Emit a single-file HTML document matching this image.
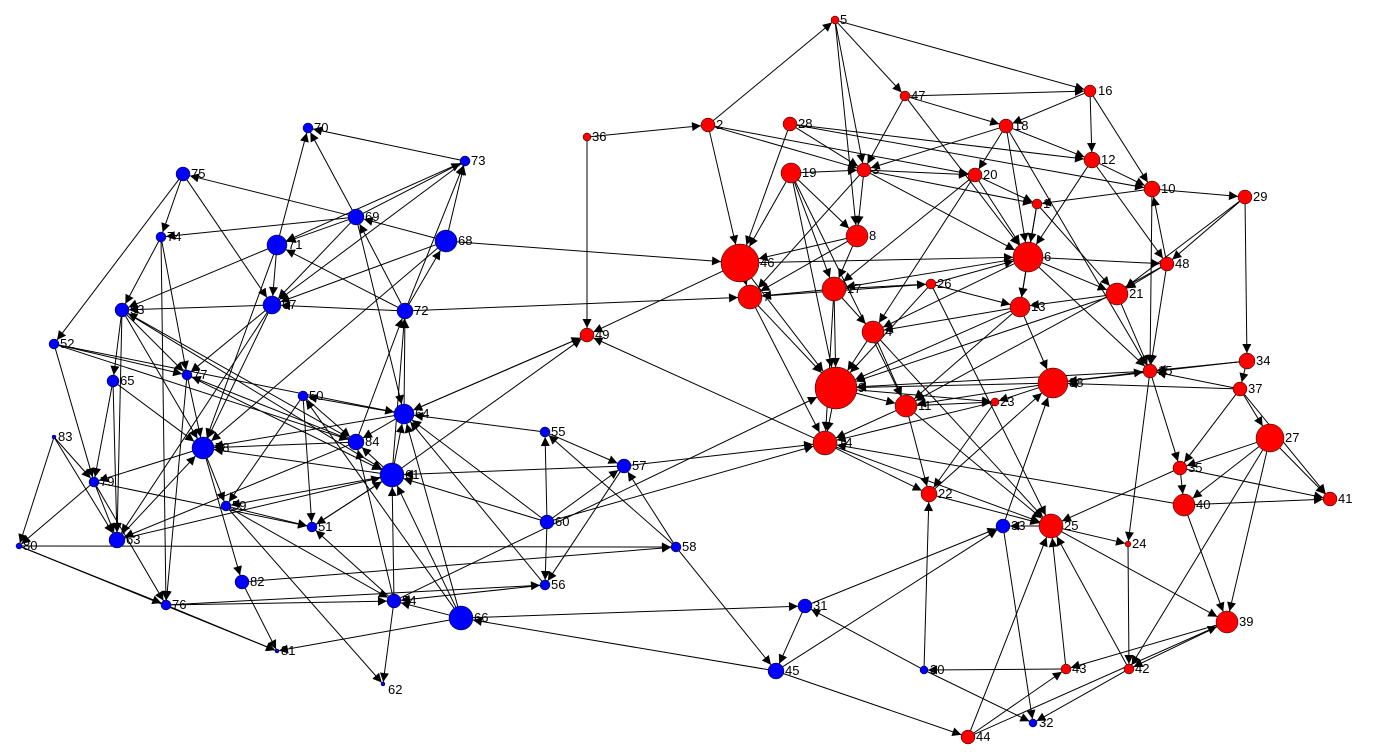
<!DOCTYPE html>
<html><head><meta charset="utf-8"><style>
html,body{margin:0;padding:0;background:#fff;}
svg{display:block;}
text{font-family:"Liberation Sans",sans-serif;font-size:13px;fill:#000;}
</style></head><body>
<svg id="g" width="1388" height="756" viewBox="0 0 1388 756">
<defs><marker id="a" viewBox="0 0 10 10" refX="10" refY="5" markerWidth="11" markerHeight="9" markerUnits="userSpaceOnUse" orient="auto"><path d="M0,0L10,5L0,10z" fill="#000"/></marker></defs>
<g id="edges" stroke="#000" stroke-width="1"></g>
<g id="nodes"></g>
<g id="labels">
<text x="840" y="24">5</text><text x="911" y="100">47</text><text x="1098" y="95">16</text><text x="716" y="129">2</text><text x="798" y="128">28</text><text x="592" y="141">36</text><text x="1014" y="130">18</text><text x="1101" y="164">12</text><text x="802" y="177">19</text><text x="872" y="174">3</text><text x="983" y="179">20</text><text x="1161" y="193">10</text><text x="1253" y="201">29</text><text x="1043" y="208">1</text><text x="869" y="240">8</text><text x="760" y="267">46</text><text x="1044" y="261">6</text><text x="1175" y="268">48</text><text x="847" y="293">17</text><text x="937" y="288">26</text><text x="763" y="301">7</text><text x="1129" y="298">21</text><text x="1031" y="311">13</text><text x="885" y="336">4</text><text x="595" y="339">49</text><text x="1256" y="365">34</text><text x="1158" y="375">15</text><text x="858" y="392">9</text><text x="1069" y="387">38</text><text x="1248" y="393">37</text><text x="918" y="410">11</text><text x="1000" y="406">23</text><text x="838" y="447">14</text><text x="1285" y="442">27</text><text x="1188" y="472">35</text><text x="938" y="498">22</text><text x="1064" y="530">25</text><text x="1196" y="509">40</text><text x="1338" y="503">41</text><text x="1132" y="548">24</text><text x="1239" y="626">39</text><text x="1072" y="673">43</text><text x="1135" y="673">42</text><text x="976" y="741">44</text>
<text x="191" y="178">75</text><text x="314" y="132">70</text><text x="471" y="165">73</text><text x="365" y="221">69</text><text x="167" y="241">74</text><text x="288" y="249">71</text><text x="458" y="245">68</text><text x="282" y="309">67</text><text x="130" y="314">53</text><text x="414" y="315">72</text><text x="60" y="348">52</text><text x="120" y="385">65</text><text x="193" y="379">77</text><text x="309" y="400">50</text><text x="415" y="418">64</text><text x="365" y="446">84</text><text x="215" y="452">78</text><text x="551" y="436">55</text><text x="405" y="479">61</text><text x="632" y="470">57</text><text x="100" y="486">79</text><text x="232" y="510">59</text><text x="555" y="526">60</text><text x="318" y="531">51</text><text x="126" y="544">63</text><text x="1011" y="530">33</text><text x="23" y="550">80</text><text x="682" y="551">58</text><text x="250" y="586">82</text><text x="551" y="589">56</text><text x="402" y="605">54</text><text x="172" y="609">76</text><text x="813" y="610">31</text><text x="474" y="622">66</text><text x="281" y="655">81</text><text x="388" y="694">62</text><text x="785" y="675">45</text><text x="930" y="674">30</text><text x="1039" y="727">32</text><text x="58" y="441">83</text>
</g>
</svg>
<script>
var R={5:[835,20,4],47:[905,96,5],16:[1090,91,6],2:[708,125,7],28:[790,124,7],36:[587,137,4],18:[1006,126,7],12:[1092,160,8],19:[791,173,10],3:[864,170,7],20:[975,175,7],10:[1152,189,8],29:[1245,197,7],1:[1037,204,5],8:[857,236,11],46:[740,263,19],6:[1028,257,15],48:[1167,264,7],17:[834,289,12],26:[931,284,5],7:[750,297,12],21:[1117,294,11],13:[1020,307,10],4:[873,332,11],49:[587,335,7],34:[1247,361,8],15:[1150,371,7],9:[836,388,21],38:[1053,383,15],37:[1240,389,7],11:[906,406,11],23:[995,402,4],14:[825,443,12],27:[1270,438,14],35:[1180,468,7],22:[929,494,8],25:[1051,526,12],40:[1184,505,11],41:[1330,499,7],24:[1128,544,3],39:[1227,622,11],43:[1066,669,5],42:[1129,669,5],44:[968,737,7]};
var B={75:[183,174,7],70:[308,128,5],73:[465,161,5],69:[356,217,8],74:[161,237,5],71:[277,245,10],68:[446,241,11],67:[272,305,9],53:[122,310,7],72:[405,311,8],52:[54,344,5],65:[113,381,6],77:[187,375,5],50:[303,396,5],64:[404,414,10],84:[356,442,8],78:[203,448,11],55:[545,432,5],61:[392,475,12],57:[624,466,7],79:[94,482,5],59:[226,506,5],60:[547,522,7],51:[312,527,5],63:[117,540,8],33:[1003,526,7],80:[19,546,3],58:[676,547,5],82:[242,582,7],56:[545,585,5],54:[394,601,7],76:[166,605,5],31:[805,606,7],66:[461,618,12],81:[277,651,2],62:[383,684,2],45:[776,671,8],30:[924,670,4],32:[1033,723,4],83:[54,437,2]};
var N={};for(var k in R)N[k]=R[k].concat(['#f00']);for(var k in B)N[k]=B[k].concat(['#00f']);
var E="5-47 5-16 5-8 5-3 2-5 36-2 36-49 2-46 2-3 2-20 28-3 28-46 28-12 28-10 47-16 47-3 47-18 47-6 16-12 16-10 16-18 18-12 18-20 18-6 18-3 18-15 12-10 12-6 12-48 10-29 10-1 10-15 19-3 19-8 19-46 19-9 19-11 19-17 3-8 3-20 3-1 3-6 3-7 20-1 20-17 20-4 20-6 1-6 1-13 1-21 29-48 29-34 29-21 8-46 8-17 8-7 46-7 46-6 68-46 46-49 46-9 6-17 6-13 6-21 6-48 6-15 6-4 48-15 48-21 48-10 48-11 17-9 17-26 17-14 17-4 17-7 26-6 26-9 26-25 26-13 26-7 7-9 7-14 72-7 21-15 21-13 21-9 13-9 13-4 13-11 13-38 4-9 4-11 4-25 49-64 14-49 34-15 34-37 34-38 15-9 15-24 15-35 9-14 38-9 9-11 9-23 38-23 38-15 38-11 37-15 37-27 37-41 37-35 37-38 11-23 11-14 11-22 11-25 23-14 23-22 14-22 60-14 14-25 27-35 27-41 27-39 27-40 27-42 35-25 35-40 35-41 22-38 30-22 22-25 25-39 25-24 25-33 40-41 40-39 40-14 24-42 39-43 39-42 44-39 43-25 43-30 42-25 42-32 44-25 44-43 31-33 33-32 45-33 33-38 30-31 30-32 31-45 66-31 45-66 58-45 45-44 58-57 58-55 60-57 60-56 60-55 60-61 60-64 55-64 55-57 57-61 57-56 57-14 56-54 76-56 56-64 54-61 54-51 54-9 54-84 54-62 66-61 66-64 66-81 66-54 66-50 61-64 61-84 61-78 61-59 61-51 61-72 61-49 64-72 64-84 64-50 64-49 64-78 84-78 84-53 84-63 84-72 84-77 72-67 72-69 72-73 72-68 72-71 68-69 68-73 68-67 68-78 69-70 69-73 69-75 69-71 69-74 69-67 69-64 73-67 73-70 73-71 71-70 71-67 71-53 71-78 67-53 67-78 67-77 67-63 53-77 53-78 53-65 53-63 53-61 75-74 75-67 75-52 74-53 74-76 74-77 52-77 52-79 52-84 52-64 65-79 65-78 65-63 77-78 77-76 77-61 78-79 78-59 78-82 50-84 50-51 50-59 79-63 79-80 79-51 79-76 83-79 83-80 83-63 59-51 59-54 80-76 80-81 80-58 63-61 63-78 82-81 82-58 76-54 76-81 51-61 59-62".split(" ");
var ns="http://www.w3.org/2000/svg",ge=document.getElementById("edges"),gn=document.getElementById("nodes");
E.forEach(function(s){var p=s.split("-"),a=N[p[0]],b=N[p[1]];if(!a||!b)return;var dx=b[0]-a[0],dy=b[1]-a[1],d=Math.sqrt(dx*dx+dy*dy);if(d<1)return;var ux=dx/d,uy=dy/d;var l=document.createElementNS(ns,"line");l.setAttribute("x1",a[0]+ux*a[2]);l.setAttribute("y1",a[1]+uy*a[2]);l.setAttribute("x2",b[0]-ux*b[2]);l.setAttribute("y2",b[1]-uy*b[2]);l.setAttribute("marker-end","url(#a)");ge.appendChild(l);});
for(var k in N){var n=N[k],c=document.createElementNS(ns,"circle");c.setAttribute("cx",n[0]);c.setAttribute("cy",n[1]);c.setAttribute("r",n[2]);c.setAttribute("fill",n[3]);c.setAttribute("stroke","#000");c.setAttribute("stroke-width","0.5");gn.appendChild(c);}
</script>
</body></html>
